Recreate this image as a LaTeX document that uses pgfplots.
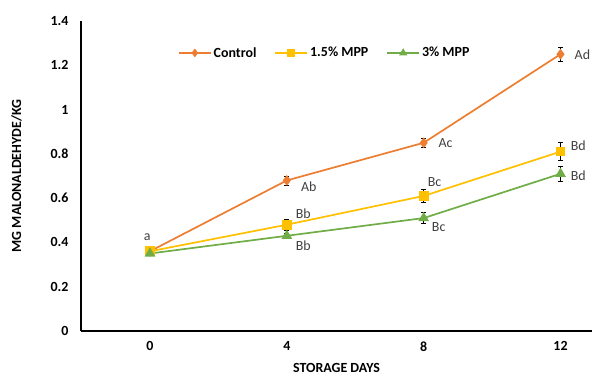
\documentclass[border=0pt]{standalone}
\usepackage{pgfplots}
\pgfplotsset{compat=1.18}
\usepackage{fontspec}
\setmainfont{Carlito}
\definecolor{cOrange}{HTML}{ED7D31}
\definecolor{cYellow}{HTML}{FFC000}
\definecolor{cGreen}{HTML}{70AD47}
\definecolor{txt}{HTML}{404040}
\begin{document}
\begin{tikzpicture}[x=1bp,y=1bp]
\begin{axis}[
  scale only axis,
  width=511bp, height=310bp,
  xmin=-0.504, xmax=3.23,
  ymin=0, ymax=1.4,
  ytick={0,0.2,0.4,0.6,0.8,1,1.2,1.4},
  xtick={0,1,2,3},
  xticklabels={0,4,8,12},
  axis x line*=bottom, axis y line*=left,
  axis line style={black, line width=1.1bp, -},
  major tick length=0pt,
  /pgf/number format/assume math mode=true,
  ticklabel style={font=\fontsize{14}{16}\selectfont\bfseries, text=black},
  yticklabel style={xshift=-9bp},
  xticklabel style={yshift=-7bp},
  xlabel={STORAGE DAYS},
  ylabel={MG MALONALDEHYDE/KG},
  label style={font=\fontsize{14}{16}\selectfont\bfseries, text=black},
  xlabel style={yshift=-5bp},
  ylabel style={yshift=22bp},
  legend columns=3,
  legend style={draw=none, fill=none, at={(0.477,0.897)}, anchor=center,
    font=\fontsize{14}{16}\selectfont\bfseries, inner sep=0pt,
    /tikz/every even column/.append style={column sep=16bp}},
  legend cell align=left,
  legend image code/.code={\draw[mark repeat=2,mark phase=2,#1,mark size=3bp] plot coordinates {(0bp,0bp)(16bp,0bp)(32bp,0bp)};},
  error bars/y dir=both, error bars/y explicit,
  error bars/error bar style={black, line width=0.7bp},
  error bars/error mark options={rotate=90, mark size=2.5bp, black, line width=0.7bp},
]
\addplot[cOrange, line width=1.7bp, mark=diamond*, mark size=4bp, mark options={fill=cOrange, draw=cOrange}]
  table[x=x, y=y, y error=e] {
x y e
0 0.36 0.01
1 0.68 0.02
2 0.85 0.02
3 1.25 0.03
};
\addlegendentry{Control}
\addplot[cYellow, line width=1.7bp, mark=square*, mark size=4bp, mark options={fill=cYellow, draw=cYellow}]
  table[x=x, y=y, y error=e] {
x y e
0 0.36 0.01
1 0.48 0.025
2 0.61 0.03
3 0.81 0.04
};
\addlegendentry{1.5\% MPP}
\addplot[cGreen, line width=1.7bp, mark=triangle*, mark size=4.5bp, mark options={fill=cGreen, draw=cGreen}]
  table[x=x, y=y, y error=e] {
x y e
0 0.35 0.01
1 0.43 0.01
2 0.51 0.025
3 0.71 0.035
};
\addlegendentry{3\% MPP}
\begin{scope}[every node/.style={font=\fontsize{14}{16}\selectfont, text=txt}]
\node at (axis cs:-0.02,0.425) {a};
\node at (axis cs:1.16,0.65) {Ab};
\node at (axis cs:1.12,0.528) {Bb};
\node at (axis cs:1.12,0.385) {Bb};
\node at (axis cs:2.16,0.848) {Ac};
\node at (axis cs:2.08,0.673) {Bc};
\node at (axis cs:2.11,0.47) {Bc};
\node at (axis cs:3.16,1.25) {Ad};
\node at (axis cs:3.13,0.836) {Bd};
\node at (axis cs:3.13,0.70) {Bd};
\end{scope}
\end{axis}
\pgfresetboundingbox
\path ([shift={(-81bp,-45bp)}]current axis.south west) rectangle ([shift={(0bp,21bp)}]current axis.north east);
\end{tikzpicture}
\end{document}
